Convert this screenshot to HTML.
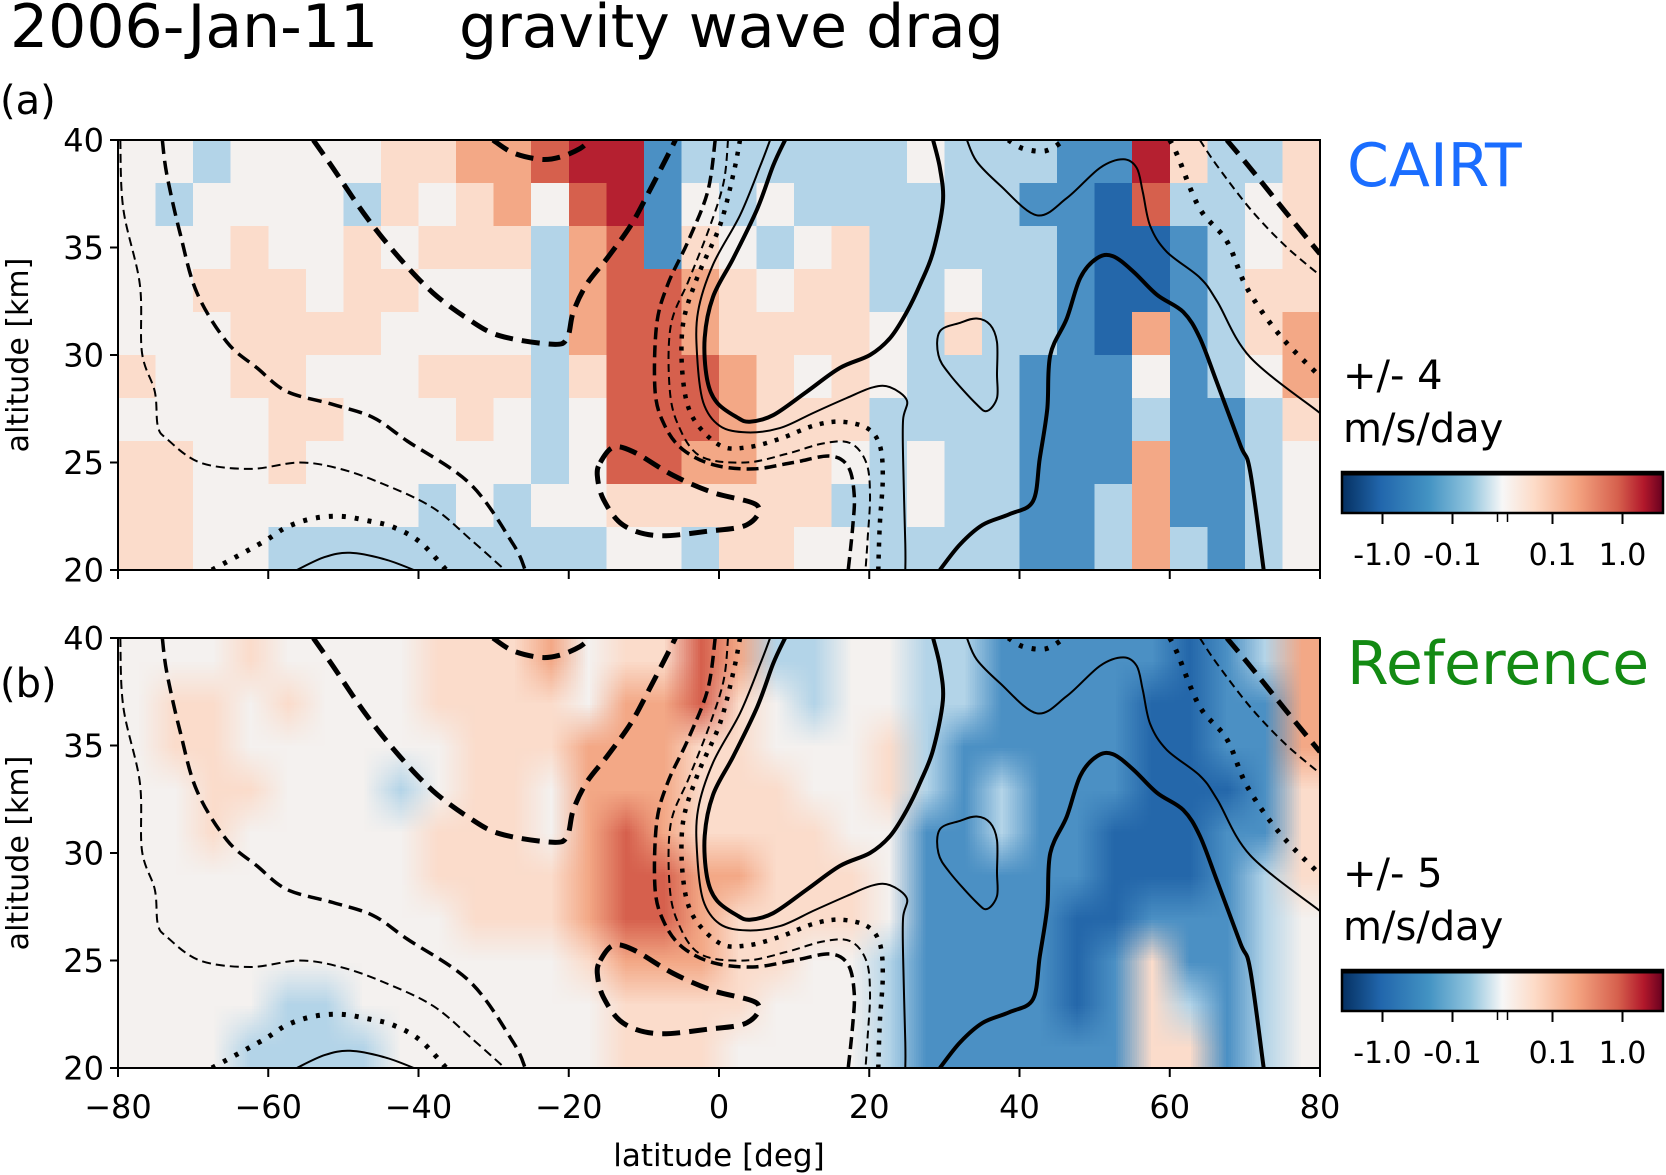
<!DOCTYPE html>
<html><head><meta charset="utf-8"><style>
html,body{margin:0;padding:0;background:#fff;}
#root{position:relative;width:1666px;height:1175px;overflow:hidden;font-family:"DejaVu Sans","Liberation Sans",sans-serif;}
canvas.hm{position:absolute;left:118px;width:1202px;height:430px;}
#hmA{top:140px;image-rendering:pixelated;}
#hmB{top:638px;}
svg{position:absolute;left:0;top:0;}
</style></head><body>
<div id="root">
<canvas id="hmA" class="hm" width="32" height="10"></canvas>
<canvas id="hmB" class="hm" width="32" height="10"></canvas>
<svg id="svg" width="1666" height="1175" xmlns="http://www.w3.org/2000/svg">
<defs>
<clipPath id="clipA"><rect x="118" y="140" width="1202" height="430"/></clipPath>
<clipPath id="clipB"><rect x="118" y="638" width="1202" height="430"/></clipPath>
<linearGradient id="cmap" x1="0" x2="1" y1="0" y2="0">
<stop offset="0" stop-color="#053061"/><stop offset="0.12" stop-color="#2166ac"/><stop offset="0.27" stop-color="#4393c3"/><stop offset="0.4" stop-color="#92c5de"/><stop offset="0.5" stop-color="#f7f7f7"/><stop offset="0.6" stop-color="#fddbc7"/><stop offset="0.73" stop-color="#f4a582"/><stop offset="0.86" stop-color="#d6604d"/><stop offset="0.94" stop-color="#b2182b"/><stop offset="1" stop-color="#67001f"/>
</linearGradient>
</defs>
<text x="10" y="47" font-size="60">2006-Jan-11</text>
<text x="459" y="47" font-size="60">gravity wave drag</text>
<text x="0" y="114" font-size="40">(a)</text>
<text x="0" y="697" font-size="40">(b)</text>
<text x="1347" y="186" font-size="60" fill="#1a6dff">CAIRT</text>
<text x="1347" y="684" font-size="60" fill="#138a13">Reference</text>
<text x="1343" y="389" font-size="40">+/- 4</text>
<text x="1343" y="442" font-size="40">m/s/day</text>
<text x="1343" y="887" font-size="40">+/- 5</text>
<text x="1343" y="940" font-size="40">m/s/day</text>
<text transform="translate(28,355) rotate(-90)" text-anchor="middle" font-size="30">altitude [km]</text>
<text transform="translate(28,853) rotate(-90)" text-anchor="middle" font-size="30">altitude [km]</text>
<text x="719" y="1166" text-anchor="middle" font-size="31">latitude [deg]</text>
<g id="gA" clip-path="url(#clipA)"></g>
<g id="gB" clip-path="url(#clipB)"></g>
<g id="axes"></g>
</svg>
</div>
<script>
// ===== heatmap data: 32 latitude bins (5 deg, -80..80) x 10 altitude rows (40 km top -> 20 km bottom)
// level 0 = strong negative drag ... 4 = ~0 ... 8 = strong positive drag
const latBins = [-80,-75,-70,-65,-60,-55,-50,-45,-40,-35,-30,-25,-20,-15,-10,-5,0,5,10,15,20,25,30,35,40,45,50,55,60,65,70,75];
const altRows = [40,38,36,34,32,30,28,26,24,22];
const cairtRows = [
"44344445566788233333343332285335",
"43444435456478243433333322173345",
"44454454555367254345333332112345",
"44555455444367765455334332112355",
"44455554444367765555435332162356",
"54455444555357776545433322242346",
"44445544454347776555333322232235",
"55445444444347766554343322262234",
"55444444343445555553343322362234",
"55443333333334435544333322363234"];
const refRows = [
"44454444555645576334433222221236",
"45545444555546675434433222211226",
"45544444455566655444532222211226",
"44554443455466655544532322211125",
"44544444555467655554422322111225",
"44444444555567766555422222111235",
"44444444455567765555422221122234",
"44444444444456665544322221252234",
"44443344444445555444322221253234",
"44433334444445554444322222255234"];
const levelColors = ["#124a8a","#2467aa","#4b90c4","#b3d4e8","#f4f1ef","#fbdccb","#f3a886","#d6604d","#b52030"];

function paint(id, rows){
  const c=document.getElementById(id), ctx=c.getContext('2d');
  rows.forEach((r,j)=>{ for(let i=0;i<latBins.length;i++){ ctx.fillStyle=levelColors[+r[i]]; ctx.fillRect(i,j,1,1);} });
}
paint('hmA', cairtRows);
paint('hmB', refRows);

// ===== contour data (latitude deg, altitude km)
const cLeftThin = [[-79.7,40],[-79.3,36.8],[-77.1,33.3],[-76.8,30.1],[-75.1,28.3],[-74.7,26.7],[-73.5,26.1],[-69.1,25.0],[-62.4,24.7],[-55.8,25.0],[-50.4,24.7],[-44.7,24.0],[-38.1,22.9],[-33,21.4],[-28.5,20]];
const cLeftMed = [[-74.1,40],[-73.5,38.4],[-71.7,35.6],[-69.5,32.9],[-65.5,30.6],[-61.5,29.4],[-57.5,28.3],[-51.4,27.7],[-46.1,27.1],[-41.5,26.0],[-33.1,24.0],[-27.4,21.2],[-25.8,20]];
const cBigDash = [[-54.0,40],[-51.4,38.7],[-46.9,36.4],[-42.5,34.5],[-38.1,32.9],[-33.5,31.7],[-29.2,30.9],[-22.1,30.5],[-20.2,30.8],[-19.4,32.0],[-17.6,33.3],[-14.9,34.5],[-11.8,36.0],[-9.3,37.6],[-6.8,39.3],[-5.8,40]];
const cTopDash = [[-30.1,40],[-27.4,39.4],[-23.8,39.1],[-21.2,39.2],[-18.5,39.6],[-17.2,40]];
const cLeftDot = [[-67.5,20],[-60.7,21.3],[-57.5,22.0],[-54.0,22.4],[-50.4,22.5],[-46.9,22.3],[-43.4,22.0],[-39.8,21.3],[-36.3,20]];
const cLeftSolid = [[-56.2,20],[-52.5,20.6],[-49.1,20.8],[-44.5,20.5],[-40.6,20]];
const cThickSolid = [[8.8,40],[7.2,38.8],[5.1,36.8],[1.9,34.5],[-0.8,32.7],[-1.9,30.8],[-1.6,28.9],[-0.3,27.8],[2.4,27.1],[4.1,26.9],[7.2,27.2],[11.7,28.3],[16.1,29.4],[20.1,30.0],[22.8,30.8],[25.0,32.0],[26.8,33.3],[28.5,34.8],[29.8,37.1],[29.4,38.7],[28.5,40]];
const cThinSolid = [[6.8,40],[5.5,38.8],[2.8,36.5],[-0.8,34.2],[-2.8,32.0],[-2.9,29.9],[-2.1,27.8],[0.1,26.7],[3.7,26.4],[8.1,26.6],[12.5,27.3],[17.0,28.0],[20.5,28.5],[22.8,28.5],[25.0,27.9],[24.5,27.0],[24.5,25.2],[24.8,21.2],[24.8,20]];
const cDotS = [[2.8,40],[1.9,38.4],[0.1,36.0],[-2.9,33.6],[-4.8,31.4],[-4.8,28.9],[-3.5,27.1],[0.1,25.8],[3.7,25.7],[8.1,26.1],[12.5,26.7],[16.1,26.9],[19.7,26.6],[21.4,25.8],[21.8,24.3],[21.4,22.1],[21.2,20]];
const cDashThinS = [[1.2,40],[0.6,38.0],[-1.4,35.8],[-4.0,33.5],[-6.4,31.4],[-6.6,28.6],[-5.5,26.8],[-2.5,25.3],[3.5,25.0],[9.0,25.4],[14.0,25.9],[17.5,25.9],[19.6,25.0],[20.1,23.5],[19.8,21.5],[19.5,20]];
const cDashMedS = [[-0.5,40],[-1.5,37.6],[-4.1,35.3],[-6.8,33.3],[-8.3,31.4],[-8.5,28.3],[-7.2,26.7],[-4.8,25.6],[-0.8,24.9],[4.5,24.7],[9.9,25.0],[14.8,25.3],[17.2,24.8],[18.0,23.5],[17.8,22.0],[17.2,20]];
const cLowLoop = [[-15.8,25.0],[-14.1,25.7],[-11.4,25.5],[-6.1,24.4],[-0.8,23.6],[5.1,23.0],[3.7,22.1],[-1.6,21.8],[-8.3,21.6],[-12.8,22.1],[-15.4,23.3],[-16.2,24.4]];
const cRightThin = [[33.0,40],[34.3,39.0],[37.4,37.9],[42.3,36.5],[46.3,37.3],[50.7,38.7],[53.8,39.1],[55.6,38.7],[56.4,37.6],[57.4,36.0],[59.6,34.8],[64.0,33.6],[66.3,32.5],[70.7,29.9],[80,27.3]];
const cRightThick = [[29.4,20],[32.1,21.2],[35.1,22.1],[38.7,22.6],[41.8,23.2],[42.7,25.2],[43.7,27.5],[44.1,30.0],[46.3,31.7],[48.1,33.6],[50.3,34.5],[52.4,34.6],[55.1,33.9],[58.3,32.8],[61.8,32.0],[64.0,30.8],[66.3,28.7],[69.4,25.8],[70.7,24.6],[72.5,20]];
const cSmallLoop = [[29.4,31.1],[32.1,31.5],[34.3,31.7],[36.1,31.4],[37.0,30.6],[37.0,29.1],[37.0,28.0],[35.7,27.4],[34.3,27.7],[30.7,29.1],[29.2,30.0]];
const cRightDot = [[60.0,40],[61.0,39.3],[64.0,36.8],[67.6,35.3],[70.3,33.1],[74.7,30.9],[80,29.0]];
const cRightDashThin = [[64.0,40],[66.3,38.8],[70.7,36.8],[75.3,35.1],[80,33.7]];
const cRightDashThick = [[67.6,40],[70.7,38.7],[75.3,36.7],[80,34.7]];
const cTopDot = [[38.5,40],[40.5,39.6],[43.5,39.5],[46.0,40]];

const contourDefs = [
 ["left-thin-dashed",cLeftThin,2,"9 5",false],
 ["left-medium-dashed",cLeftMed,3.5,"14 7",false],
 ["big-thick-dashed",cBigDash,5,"18 9",false],
 ["top-thick-dashed",cTopDash,5,"18 9",false],
 ["left-dotted",cLeftDot,5,"4 9",false],
 ["left-thin-solid",cLeftSolid,2,null,false],
 ["s-thick-solid",cThickSolid,4,null,false],
 ["s-thin-solid",cThinSolid,2,null,false],
 ["s-dotted",cDotS,4.5,"4 8",false],
 ["s-thin-dashed",cDashThinS,2,"8 5",false],
 ["s-medium-dashed",cDashMedS,3.5,"12 6",false],
 ["lower-loop-dashed",cLowLoop,5,"18 9",true],
 ["right-thin-solid",cRightThin,2,null,false],
 ["right-thick-solid",cRightThick,4,null,false],
 ["small-loop-solid",cSmallLoop,2,null,true],
 ["right-dotted",cRightDot,5,"4 9",false],
 ["right-thin-dashed",cRightDashThin,2,"8 5",false],
 ["right-thick-dashed",cRightDashThick,5,"18 9",false],
 ["top-dotted",cTopDot,5,"4 9",false]
];

// ===== axes
const X0=118, W=1202, H=430;
const panelTops=[140,638];
function xs(lat){return X0+(lat+80)*W/160;}
function ys(alt,top){return top+(40-alt)*H/20;}
const NS="http://www.w3.org/2000/svg";

function smoothPath(pts, closed){
  const n=pts.length; if(n<2) return "";
  const P=i=>closed?pts[(i+n)%n]:pts[Math.max(0,Math.min(n-1,i))];
  let d="M"+pts[0][0].toFixed(1)+","+pts[0][1].toFixed(1);
  const segs=closed?n:n-1;
  for(let i=0;i<segs;i++){
    const p0=P(i-1),p1=P(i),p2=P(i+1),p3=P(i+2);
    const c1=[p1[0]+(p2[0]-p0[0])/6,p1[1]+(p2[1]-p0[1])/6];
    const c2=[p2[0]-(p3[0]-p1[0])/6,p2[1]-(p3[1]-p1[1])/6];
    d+=" C"+c1[0].toFixed(1)+","+c1[1].toFixed(1)+" "+c2[0].toFixed(1)+","+c2[1].toFixed(1)+" "+p2[0].toFixed(1)+","+p2[1].toFixed(1);
  }
  if(closed) d+="Z";
  return d;
}

["gA","gB"].forEach((gid,pi)=>{
  const g=document.getElementById(gid), top=panelTops[pi];
  contourDefs.forEach(cd=>{
    const p=document.createElementNS(NS,"path");
    
    
    p.setAttribute("d",smoothPath(cd[1].map(q=>[xs(q[0]),ys(q[1],top)]),cd[4]));
    p.setAttribute("fill","none");p.setAttribute("stroke","#000");
    p.setAttribute("stroke-width",cd[2]);
    if(cd[3]){p.setAttribute("stroke-dasharray",cd[3]);}
    g.appendChild(p);
  });
});

const yTicks=[20,25,30,35,40];
const xTicks=[-80,-60,-40,-20,0,20,40,60,80];
const xTickLabels=["\u221280","\u221260","\u221240","\u221220","0","20","40","60","80"];
const cbTicks=[-1.0,-0.1,0.1,1.0];
const cbTickLabels=["-1.0","-0.1","0.1","1.0"];
const axes=document.getElementById("axes");
function mk(tag,attrs,text){const e=document.createElementNS(NS,tag);for(const k in attrs)e.setAttribute(k,attrs[k]);if(text!=null)e.textContent=text;axes.appendChild(e);return e;}

panelTops.forEach((top,pi)=>{
  const fr=mk("rect",{x:X0,y:top,width:W,height:H,fill:"none",stroke:"#000","stroke-width":2});
  
  
  yTicks.forEach(v=>{
    const y=ys(v,top);
    const t=mk("line",{x1:X0-8,x2:X0,y1:y,y2:y,stroke:"#000","stroke-width":2});
    
    
    const l=mk("text",{x:X0-14,y:y+11.5,"text-anchor":"end","font-size":32},String(v));
    
    
  });
  xTicks.forEach((v,i)=>{
    const x=xs(v);
    const t=mk("line",{x1:x,x2:x,y1:top+H,y2:top+H+9,stroke:"#000","stroke-width":2});
    
    
    if(pi===1){
      const l=mk("text",{x:x,y:1118,"text-anchor":"middle","font-size":32},xTickLabels[i]);
      
      
    }
  });
  const cy=472+pi*498, cx=1342, cw=321, ch=41;
  const cb=mk("rect",{x:cx,y:cy,width:cw,height:ch,fill:"url(#cmap)",stroke:"#000","stroke-width":2.5});
  
  
  const tb=mk("line",{x1:cx,x2:cx+cw,y1:cy+1.5,y2:cy+1.5,stroke:"#000","stroke-width":4});
  
  
  const cxc=cx+cw/2;
  function cbx(v){const a=Math.abs(v);const s=Math.sign(v);return a<=0.1? cxc+s*a/0.1*50 : cxc+s*(50+Math.log10(a/0.1)*70);}
  cbTicks.forEach((v,i)=>{
    const x=cbx(v);
    const t=mk("line",{x1:x,x2:x,y1:cy+ch,y2:cy+ch+11,stroke:"#000","stroke-width":2});
    
    
    const l=mk("text",{x:x,y:cy+ch+52,"text-anchor":"middle","font-size":30},cbTickLabels[i]);
    
    
  });
  [-5,5].forEach(o=>{
    const t=mk("line",{x1:cxc+o,x2:cxc+o,y1:cy+ch,y2:cy+ch+9,stroke:"#000","stroke-width":1.5});
    
    
  });
});
</script>
</body></html>
